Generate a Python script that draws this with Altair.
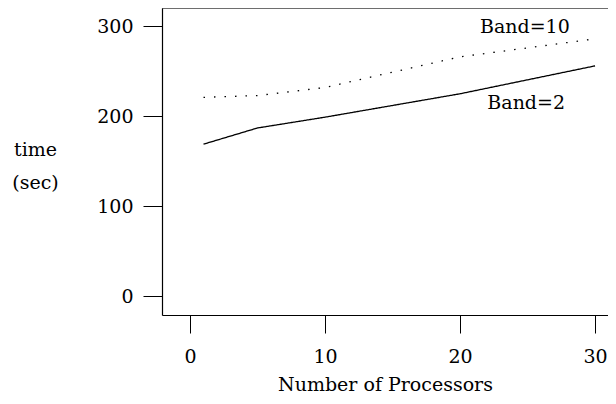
import altair as alt
import pandas as pd

processors = [1, 5, 10, 20, 30]
band2 = [169, 187, 199, 225, 256]
band10 = [221, 223, 232, 266, 286]
x_ticks = [0, 10, 20, 30]
y_ticks = [0, 100, 200, 300]
label_text = ["Band=10", "Band=2"]
label_x = [24.8, 24.9]
label_y = [299.5, 215]

FONT = "DejaVu Serif"
FS = 19

df = pd.DataFrame({
    "p": processors * 2,
    "t": band2 + band10,
    "series": ["Band=2"] * len(band2) + ["Band=10"] * len(band10),
})
labels = pd.DataFrame({"p": label_x, "t": label_y, "text": label_text})

xscale = alt.Scale(domain=[-2.074, 30.96], nice=False, zero=False)
yscale = alt.Scale(domain=[-20.8, 320.3], nice=False, zero=False)

xaxis = alt.Axis(values=x_ticks, title="Number of Processors", grid=False,
                 domain=True, domainColor="black", domainWidth=1.2,
                 tickSize=18, tickColor="black", tickWidth=1, labelPadding=14,
                 labelFont=FONT, labelFontSize=FS, labelColor="black",
                 titleFont=FONT, titleFontSize=FS, titleFontWeight="normal", titleColor="black",
                 titleY=69, titleBaseline="middle")
yaxis = alt.Axis(values=y_ticks, title=["time", "(sec)"], grid=False,
                 domain=True, domainColor="black", domainWidth=1.2,
                 tickSize=19, tickColor="black", tickWidth=1, labelPadding=10,
                 labelFont=FONT, labelFontSize=FS, labelColor="black",
                 titleFont=FONT, titleFontSize=FS, titleFontWeight="normal", titleColor="black",
                 titleAngle=0, titleAlign="center", titleBaseline="middle",
                 titleX=-127, titleY=141, titleLineHeight=33)

lines = alt.Chart(df).mark_line(color="black", strokeWidth=1.3).encode(
    x=alt.X("p:Q", scale=xscale, axis=xaxis),
    y=alt.Y("t:Q", scale=yscale, axis=yaxis),
    detail="series:N",
    strokeDash=alt.StrokeDash("series:N",
                              scale=alt.Scale(domain=["Band=2", "Band=10"], range=[[1, 0], [1.5, 9]]),
                              legend=None),
)

top_border = alt.Chart(pd.DataFrame({"a": [0]})).mark_rule(color="black", strokeWidth=1.2).encode(
    x=alt.value(0), x2=alt.value(446), y=alt.value(0)
)

text = alt.Chart(labels).mark_text(font=FONT, fontSize=FS, color="black", align="center",
                                   baseline="middle").encode(
    x=alt.X("p:Q", scale=xscale),
    y=alt.Y("t:Q", scale=yscale),
    text="text:N",
)

chart = (lines + text + top_border).properties(
    width=446, height=307,
    autosize=alt.AutoSizeParams(type="none"),
    padding={"left": 154, "top": 0, "right": 0, "bottom": 81},
).configure_view(stroke=None, fill="white").configure(background="white")

chart.save("out.html", embed_options={"renderer": "svg", "actions": False})
